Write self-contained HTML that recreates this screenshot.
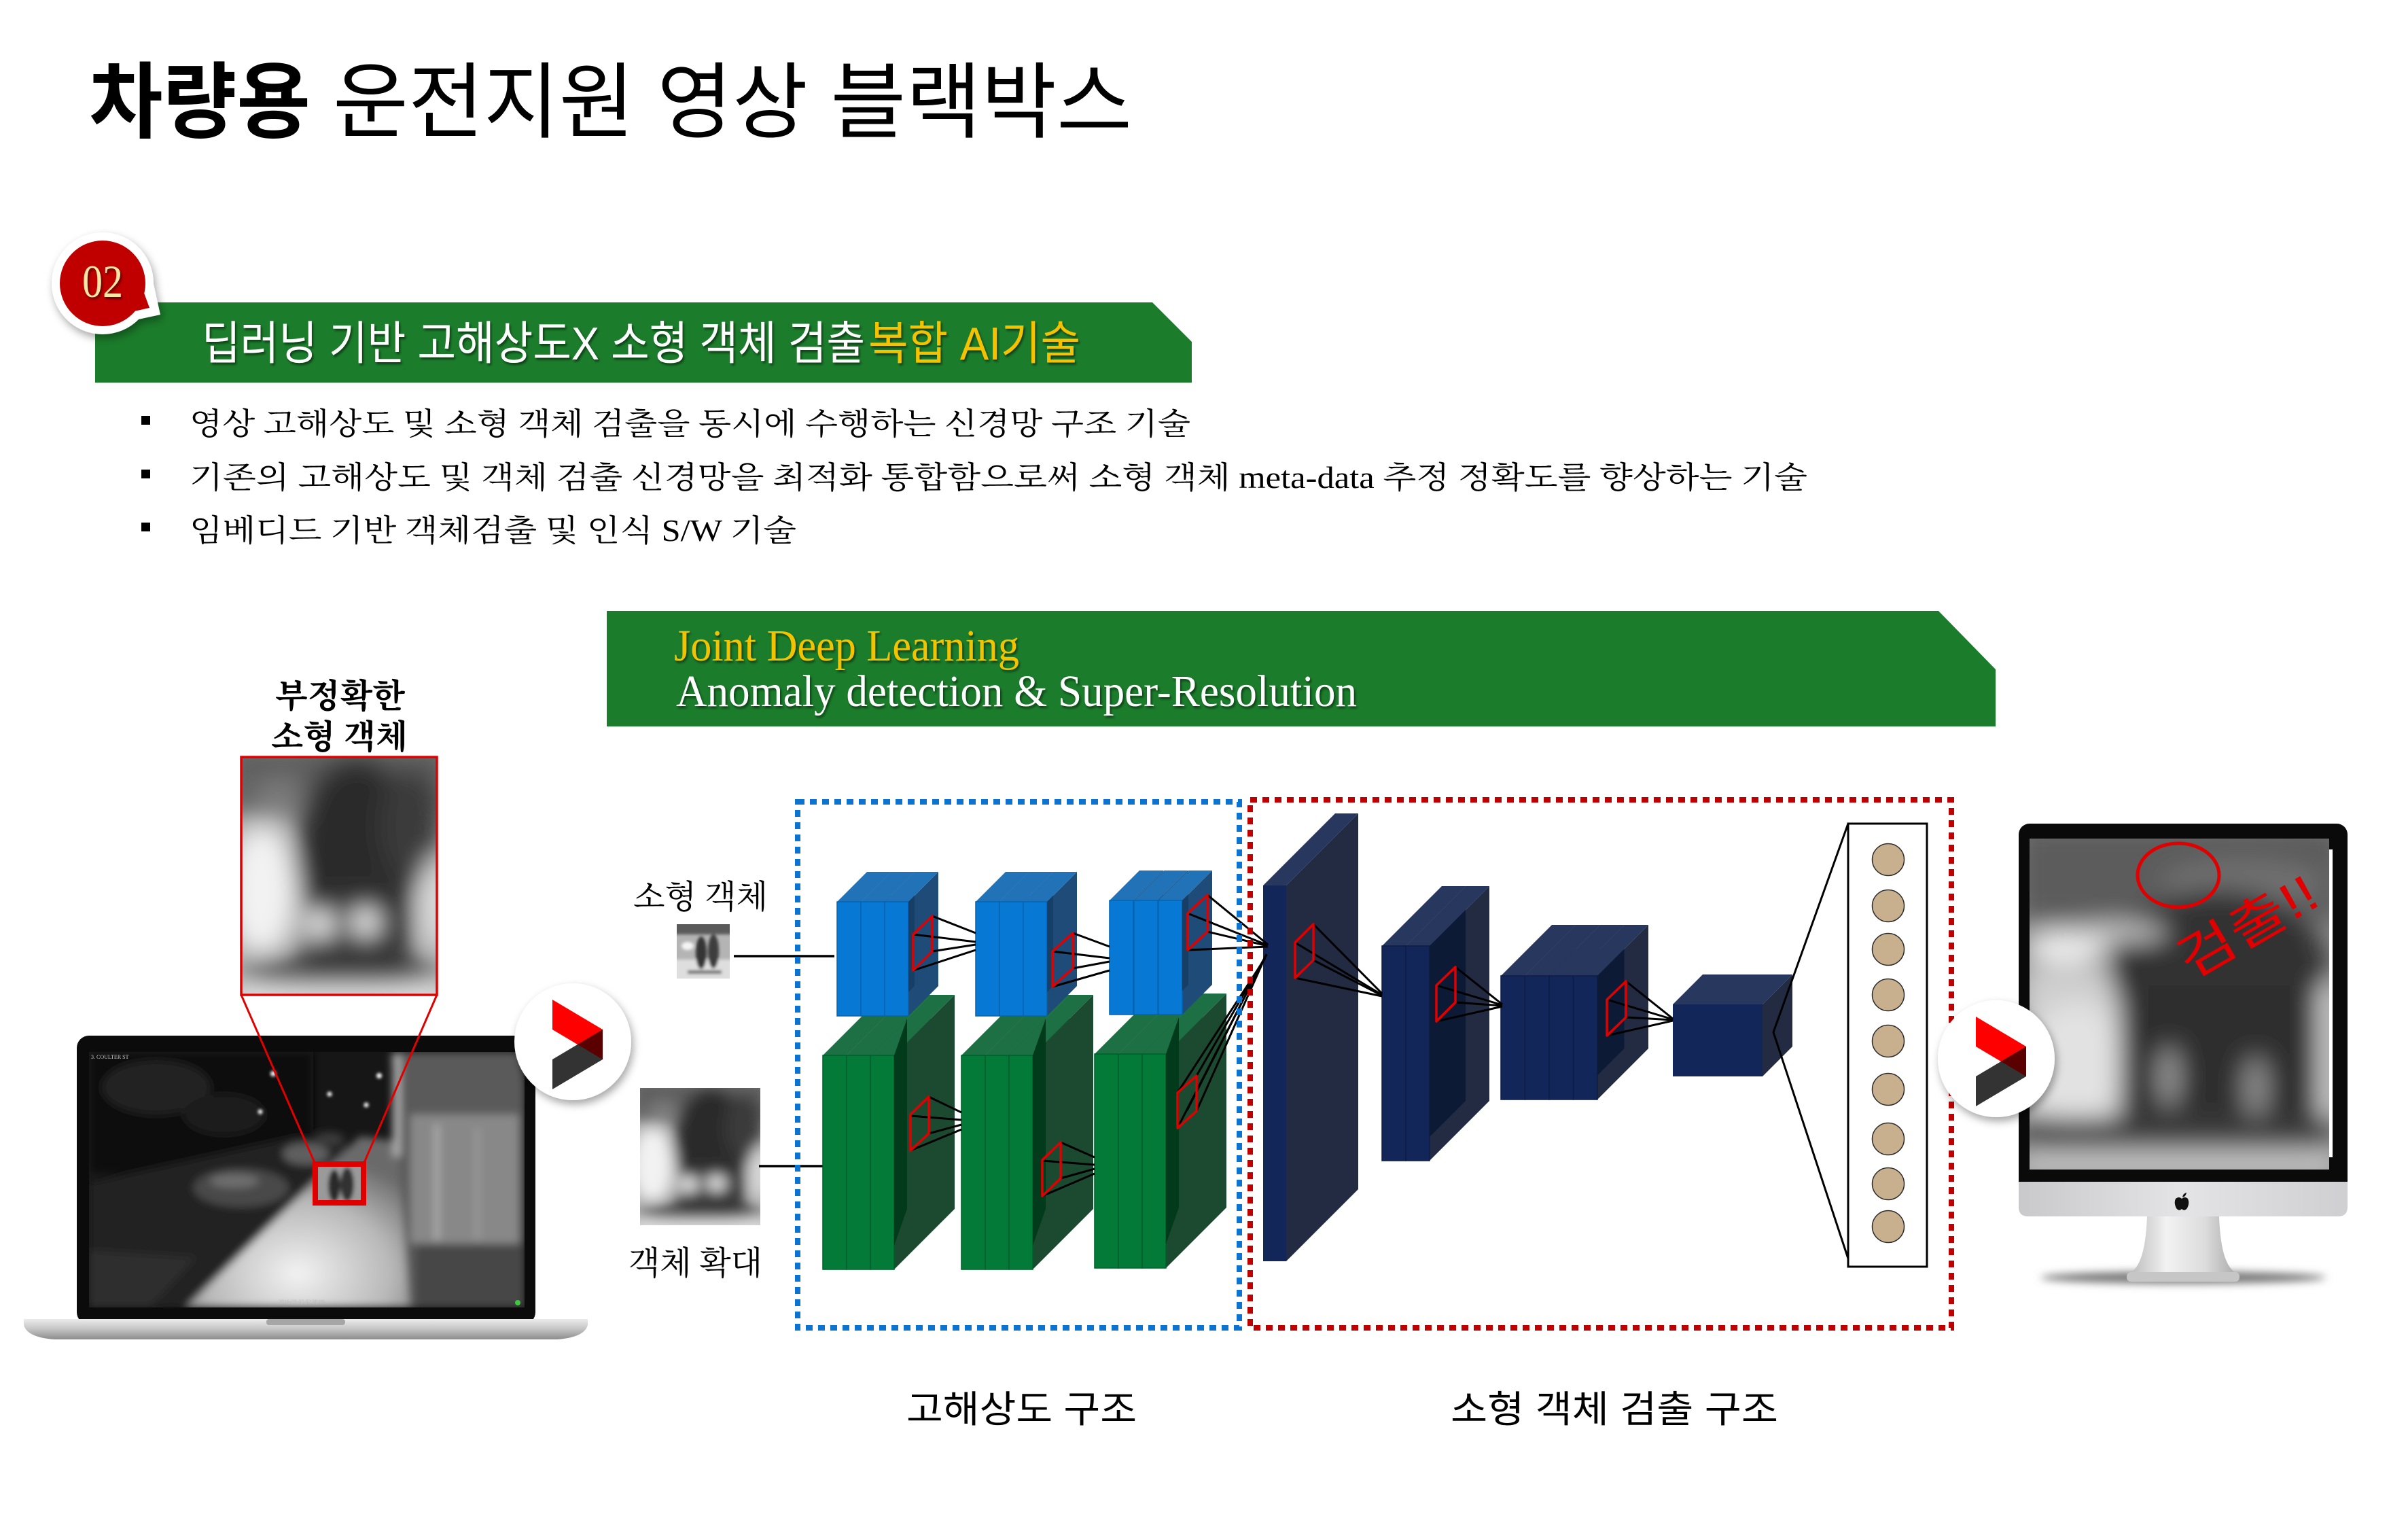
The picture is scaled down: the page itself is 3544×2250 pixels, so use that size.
<!DOCTYPE html>
<html><head><meta charset="utf-8">
<style>
html,body{margin:0;padding:0;background:#fff;overflow:hidden;}
svg{display:block;}
.ks{font-family:"Liberation Sans","Noto Sans CJK KR",sans-serif;}
.kr{font-family:"Liberation Serif","Noto Serif CJK SC",serif;}
.ls{font-family:"Liberation Serif",serif;}
</style></head><body>
<svg width="3544" height="2250" viewBox="0 0 3544 2250" xmlns="http://www.w3.org/2000/svg" xmlns:xlink="http://www.w3.org/1999/xlink">
<defs>
 <filter id="sh" x="-30%" y="-30%" width="160%" height="160%"><feDropShadow dx="3" dy="6" stdDeviation="6" flood-color="#000" flood-opacity="0.35"/></filter>
 <filter id="tsh" x="-5%" y="-20%" width="110%" height="140%"><feDropShadow dx="2" dy="3" stdDeviation="1.5" flood-color="#000" flood-opacity="0.5"/></filter>
 <filter id="b18" x="-30%" y="-30%" width="160%" height="160%"><feGaussianBlur stdDeviation="18"/></filter>
 <filter id="b14" x="-30%" y="-30%" width="160%" height="160%"><feGaussianBlur stdDeviation="14"/></filter>
 <filter id="b6s" x="-10%" y="-10%" width="120%" height="120%"><feGaussianBlur stdDeviation="6"/></filter>
 <filter id="b3" x="-10%" y="-10%" width="120%" height="120%"><feGaussianBlur stdDeviation="3"/></filter>
 <filter id="b2" x="-20%" y="-20%" width="140%" height="140%"><feGaussianBlur stdDeviation="2"/></filter>
 <filter id="b6" x="-50%" y="-200%" width="200%" height="500%"><feGaussianBlur stdDeviation="6"/></filter>
 <linearGradient id="silv" x1="0" y1="0" x2="0" y2="1"><stop offset="0" stop-color="#ececec"/><stop offset="0.5" stop-color="#c4c4c4"/><stop offset="1" stop-color="#8c8c8c"/></linearGradient>
 <linearGradient id="chin" x1="0" y1="0" x2="1" y2="0"><stop offset="0" stop-color="#c9c9cc"/><stop offset="0.5" stop-color="#e4e4e6"/><stop offset="1" stop-color="#cfcfd2"/></linearGradient>
 <linearGradient id="stand" x1="0" y1="0" x2="1" y2="0"><stop offset="0" stop-color="#b8b8b8"/><stop offset="0.35" stop-color="#f2f2f2"/><stop offset="0.7" stop-color="#dcdcdc"/><stop offset="1" stop-color="#a8a8a8"/></linearGradient>
 <radialGradient id="walk" cx="0.5" cy="0.8" r="0.7"><stop offset="0" stop-color="#f2f2f2"/><stop offset="0.6" stop-color="#b8b8b8"/><stop offset="1" stop-color="#6a6a6a"/></radialGradient>

 <clipPath id="cz"><rect x="355" y="1114" width="288" height="350"/></clipPath>
 <clipPath id="cl"><rect x="131" y="1548" width="641" height="376"/></clipPath>
 <clipPath id="cm"><rect x="2987" y="1234" width="441" height="487"/></clipPath>
 <clipPath id="cs"><rect x="996" y="1360" width="78" height="80"/></clipPath>

 <g id="zimg">
  <g clip-path="url(#cz)">
   <rect x="355" y="1114" width="288" height="350" fill="#b0b0b0"/>
   <g filter="url(#b18)">
    <rect x="330" y="1090" width="340" height="110" fill="#5e5e5e"/>
    <ellipse cx="385" cy="1310" rx="50" ry="95" fill="#f2f2f2"/>
    <ellipse cx="525" cy="1255" rx="90" ry="140" fill="#2a2a2a"/>
    <ellipse cx="605" cy="1215" rx="45" ry="85" fill="#3a3a3a"/>
    <rect x="445" y="1290" width="160" height="125" fill="#2e2e2e"/>
    <circle cx="472" cy="1360" r="20" fill="#ffffff"/>
    <circle cx="538" cy="1357" r="20" fill="#ffffff"/>
    <ellipse cx="500" cy="1430" rx="150" ry="24" fill="#404040"/>
    <rect x="340" y="1452" width="320" height="30" fill="#f4f4f4"/>
    <ellipse cx="640" cy="1330" rx="18" ry="70" fill="#e6e6e6"/>
    <ellipse cx="410" cy="1175" rx="40" ry="30" fill="#7a7a7a"/>
   </g>
  </g>
 </g>

 <g id="bslab"><polygon points="35,0 79,-44 79,124 35,168" fill="#1e4b77"/><polygon points="0,0 44,-44 79,-44 35,0" fill="#2272b8"/><rect x="0" y="0" width="35" height="168" fill="#0878d5" stroke="#0563ae" stroke-width="1.5"/></g>
 <g id="gslab"><polygon points="35,0 124,-89 124,226 35,315" fill="#1c4a31"/><polygon points="0,0 89,-89 124,-89 35,0" fill="#1d7043"/><rect x="0" y="0" width="35" height="315" fill="#037a38" stroke="#025c2a" stroke-width="1.5"/></g>
 <g id="n2slab"><polygon points="35,0 123,-88 123,228 35,316" fill="#222b42"/><polygon points="0,0 88,-88 123,-88 35,0" fill="#28375e"/><rect x="0" y="0" width="35" height="316" fill="#13265a" stroke="#0e1d45" stroke-width="1.5"/></g>
 <g id="n3slab"><polygon points="35.5,0 110.5,-75 110.5,107 35.5,182" fill="#222b42"/><polygon points="0,0 75,-75 110.5,-75 35.5,0" fill="#28375e"/><rect x="0" y="0" width="35.5" height="182" fill="#13265a" stroke="#0e1d45" stroke-width="1.5"/></g>
</defs>

<!-- Title -->
<text class="ks" x="131" y="193" font-size="122" font-weight="700" fill="#000" textLength="326" lengthAdjust="spacingAndGlyphs">차량용</text>
<text class="ks" x="490" y="193" font-size="122" font-weight="400" fill="#000" textLength="1176" lengthAdjust="spacingAndGlyphs">운전지원 영상 블랙박스</text>

<!-- Banner 1 -->
<polygon points="140,445 1696,445 1754,503 1754,563 140,563" fill="#1b7c2b"/>
<g filter="url(#tsh)">
<text class="ks" x="297" y="529" font-size="68" fill="#ffffff" textLength="976" lengthAdjust="spacingAndGlyphs">딥러닝 기반 고해상도X 소형 객체 검출</text>
<text class="ks" x="1278" y="529" font-size="68" fill="#f5c200" textLength="312" lengthAdjust="spacingAndGlyphs">복합 AI기술</text>
</g>

<!-- Badge 02 -->
<g filter="url(#sh)">
 <circle cx="151" cy="417" r="75" fill="#fff"/>
 <polygon points="180,475 236,463 222,400" fill="#fff"/>
</g>
<circle cx="151" cy="417" r="63" fill="#c00000"/>
<polygon points="180,462 220,453 205,412" fill="#c00000"/>
<text class="ls" x="121" y="437" font-size="68" fill="#f7e6a4" textLength="60" lengthAdjust="spacingAndGlyphs" filter="url(#tsh)">02</text>

<!-- Bullets -->
<rect x="208" y="612" width="13" height="13" fill="#000"/>
<rect x="208" y="691" width="13" height="13" fill="#000"/>
<rect x="208" y="769" width="13" height="13" fill="#000"/>
<text class="kr" x="279" y="639" font-size="45" fill="#000" textLength="1473" lengthAdjust="spacingAndGlyphs">영상 고해상도 및 소형 객체 검출을 동시에 수행하는 신경망 구조 기술</text>
<text class="kr" x="279" y="718" font-size="45" fill="#000" textLength="2381" lengthAdjust="spacingAndGlyphs">기존의 고해상도 및 객체 검출 신경망을 최적화 통합함으로써 소형 객체 meta-data 추정 정확도를 향상하는 기술</text>
<text class="kr" x="279" y="796" font-size="45" fill="#000" textLength="893" lengthAdjust="spacingAndGlyphs">임베디드 기반 객체검출 및 인식 S/W 기술</text>

<!-- Banner 2 -->
<polygon points="893,899 2853,899 2937,985 2937,1069 893,1069" fill="#1b7c2b"/>
<g filter="url(#tsh)">
<text class="ls" x="992" y="972" font-size="66" fill="#f3c300" textLength="508" lengthAdjust="spacingAndGlyphs">Joint Deep Learning</text>
<text class="ls" x="995" y="1039" font-size="66" fill="#ffffff" textLength="1002" lengthAdjust="spacingAndGlyphs">Anomaly detection &amp; Super-Resolution</text>
</g>

<!-- Left labels -->
<text class="kr" x="405" y="1041" font-size="49" font-weight="700" fill="#000" textLength="191" lengthAdjust="spacingAndGlyphs">부정확한</text>
<text class="kr" x="399" y="1101" font-size="49" font-weight="700" fill="#000" textLength="201" lengthAdjust="spacingAndGlyphs">소형 객체</text>

<!-- zoomed blurry image -->
<use xlink:href="#zimg" href="#zimg"/>
<rect x="355" y="1114" width="288" height="350" fill="none" stroke="#e00000" stroke-width="3.5"/>

<!-- Laptop -->
<rect x="113" y="1524" width="675" height="425" rx="18" fill="#0b0b0b"/>
<g clip-path="url(#cl)">
 <rect x="131" y="1548" width="641" height="376" fill="#161616"/>
 <g filter="url(#b6s)">
  <rect x="131" y="1548" width="330" height="180" fill="#0c0c0c"/>
  <ellipse cx="230" cy="1600" rx="80" ry="40" fill="#222"/>
  <ellipse cx="330" cy="1640" rx="60" ry="30" fill="#1e1e1e"/>
  <polygon points="131,1740 131,1924 290,1924 525,1690 440,1672" fill="#242424"/>
  <polygon points="131,1840 131,1924 220,1924 290,1850" fill="#2e2e2e"/>
  <polygon points="274,1924 602,1924 586,1680 530,1672" fill="url(#walk)"/>
  <polygon points="576,1548 772,1548 772,1924 602,1924 586,1680" fill="#5a5a5a"/>
  <rect x="604" y="1640" width="160" height="190" fill="#888"/>
  <rect x="640" y="1655" width="6" height="170" fill="#b4b4b4"/>
  <rect x="700" y="1660" width="5" height="165" fill="#a0a0a0"/>
  <rect x="612" y="1830" width="160" height="94" fill="#474747"/>
  <rect x="578" y="1552" width="12" height="150" fill="#aaa"/>
  <ellipse cx="355" cy="1748" rx="70" ry="28" fill="#4a4a4a"/>
  <ellipse cx="345" cy="1738" rx="36" ry="10" fill="#6e6e6e"/>
  <ellipse cx="450" cy="1698" rx="34" ry="16" fill="#5e5e5e"/>
  <ellipse cx="485" cy="1676" rx="22" ry="10" fill="#3a3a3a"/>
 </g>
 <g fill="#fff" filter="url(#b2)">
  <circle cx="402" cy="1580" r="4"/><circle cx="558" cy="1583" r="4"/><circle cx="485" cy="1610" r="3.5"/>
  <circle cx="383" cy="1636" r="3.5"/><circle cx="539" cy="1626" r="3.5"/>
 </g>
 <g filter="url(#b3)">
  <rect x="464" y="1713" width="71" height="57" fill="#9a9a9a"/>
  <ellipse cx="492" cy="1745" rx="9" ry="24" fill="#2a2a2a"/>
  <ellipse cx="511" cy="1743" rx="10" ry="25" fill="#333"/>
 </g>
 <circle cx="762" cy="1917" r="4" fill="#3ec83e"/>
 <text class="ls" x="134" y="1558" font-size="8" fill="#ccc">3. COULTER ST</text>
 <text class="ls" x="410" y="1918" font-size="8" fill="#bbb">2016-09-05 02:38:09</text>
</g>
<path d="M35,1941 L865,1941 L865,1950 Q860,1968 820,1971 L80,1971 Q40,1968 35,1950 Z" fill="url(#silv)"/>
<rect x="392" y="1941" width="116" height="9" rx="4" fill="#a6a6a6"/>
<line x1="355" y1="1464" x2="464" y2="1713" stroke="#e00000" stroke-width="3"/>
<line x1="643" y1="1464" x2="535" y2="1713" stroke="#e00000" stroke-width="3"/>
<rect x="464" y="1713" width="71" height="57" fill="none" stroke="#e00000" stroke-width="8"/>

<!-- Play button 1 -->
<g transform="translate(843,1533)">
 <circle r="86" fill="#fff" filter="url(#sh)"/>
 <polygon points="-30,-62 44,-18 44,26 -30,-18" fill="#ff0000"/>
 <polygon points="-30,26 44,-18 44,26 -30,70" fill="#333333"/>
 <polygon points="7,4 44,-18 44,26" fill="#5a0000"/>
</g>

<!-- Inputs -->
<text class="kr" x="932" y="1336" font-size="48" fill="#000" textLength="198" lengthAdjust="spacingAndGlyphs">소형 객체</text>
<g clip-path="url(#cs)">
 <rect x="996" y="1360" width="78" height="80" fill="#b4b4b4"/>
 <g filter="url(#b2)">
  <rect x="990" y="1355" width="90" height="20" fill="#5a5a5a"/>
  <rect x="990" y="1412" width="90" height="35" fill="#dedede"/>
  <ellipse cx="1012" cy="1392" rx="9" ry="6" fill="#f4f4f4"/>
  <ellipse cx="1032" cy="1402" rx="8" ry="24" fill="#353535"/>
  <ellipse cx="1050" cy="1400" rx="8" ry="25" fill="#3d3d3d"/>
  <rect x="1012" y="1428" width="50" height="5" fill="#666"/>
 </g>
</g>
<line x1="1080" y1="1407" x2="1228" y2="1407" stroke="#000" stroke-width="3.5"/>
<use xlink:href="#zimg" href="#zimg" transform="translate(942,1601) scale(0.6146,0.5771) translate(-355,-1114)"/>
<line x1="1117" y1="1716" x2="1218" y2="1716" stroke="#000" stroke-width="3.5"/>
<text class="kr" x="925" y="1875" font-size="48" fill="#000" textLength="197" lengthAdjust="spacingAndGlyphs">객체 확대</text>

<!-- Green blocks -->
<g transform="translate(1211,1553)"><use href="#gslab" xlink:href="#gslab"/><use href="#gslab" xlink:href="#gslab" x="35"/><use href="#gslab" xlink:href="#gslab" x="70"/><polygon points="105,0 124,-54 124,226 105,280" fill="#023b1b"/></g>
<g transform="translate(1415,1553)"><use href="#gslab" xlink:href="#gslab"/><use href="#gslab" xlink:href="#gslab" x="35"/><use href="#gslab" xlink:href="#gslab" x="70"/><polygon points="105,0 124,-54 124,226 105,280" fill="#023b1b"/></g>
<g transform="translate(1611,1551)"><use href="#gslab" xlink:href="#gslab"/><use href="#gslab" xlink:href="#gslab" x="35"/><use href="#gslab" xlink:href="#gslab" x="70"/><polygon points="105,0 124,-54 124,226 105,280" fill="#023b1b"/></g>

<!-- Blue blocks -->
<g transform="translate(1232,1327)"><use href="#bslab" xlink:href="#bslab"/><use href="#bslab" xlink:href="#bslab" x="35"/><use href="#bslab" xlink:href="#bslab" x="70"/><polygon points="105,0 114,-9 114,124 105,133" fill="#173f66"/></g>
<g transform="translate(1436,1327)"><use href="#bslab" xlink:href="#bslab"/><use href="#bslab" xlink:href="#bslab" x="35"/><use href="#bslab" xlink:href="#bslab" x="70"/><polygon points="105,0 114,-9 114,124 105,133" fill="#173f66"/></g>
<g transform="translate(1633,1325)"><use href="#bslab" xlink:href="#bslab"/><use href="#bslab" xlink:href="#bslab" x="36"/><use href="#bslab" xlink:href="#bslab" x="72"/><polygon points="107,0 116,-9 116,124 107,133" fill="#173f66"/></g>

<!-- Navy slab 1 -->
<polygon points="1893,1303 1999,1197 1999,1750 1893,1856" fill="#222b42"/>
<polygon points="1859,1303 1965,1197 1999,1197 1893,1303" fill="#28375e"/>
<rect x="1859" y="1303" width="34" height="553" fill="#13265a"/>
<!-- Navy 2 -->
<g transform="translate(2034,1392)"><use href="#n2slab" xlink:href="#n2slab"/><use href="#n2slab" xlink:href="#n2slab" x="35"/><polygon points="70,0 123,-53 123,228 70,281" fill="#0d1a36"/></g>
<!-- Navy 3 -->
<g transform="translate(2209,1436)"><use href="#n3slab" xlink:href="#n3slab"/><use href="#n3slab" xlink:href="#n3slab" x="35.5"/><use href="#n3slab" xlink:href="#n3slab" x="71"/><use href="#n3slab" xlink:href="#n3slab" x="106.5"/><polygon points="142,0 181.5,-39.5 181.5,107 142,146.5" fill="#0d1a36"/></g>
<!-- Cube -->
<polygon points="2594,1478 2638,1434 2638,1540 2594,1584" fill="#222b42"/>
<polygon points="2462,1478 2506,1434 2638,1434 2594,1478" fill="#28375e"/>
<rect x="2462" y="1478" width="132" height="106" fill="#13265a"/>

<!-- connection lines -->
<g stroke="#000" stroke-width="3" fill="none">
 <line x1="1372" y1="1348" x2="1436" y2="1373"/><line x1="1344" y1="1375" x2="1436" y2="1386"/><line x1="1372" y1="1400" x2="1436" y2="1390"/><line x1="1344" y1="1428" x2="1436" y2="1398"/>
 <line x1="1579" y1="1373" x2="1633" y2="1393"/><line x1="1549" y1="1400" x2="1633" y2="1410"/><line x1="1579" y1="1425" x2="1633" y2="1415"/><line x1="1549" y1="1452" x2="1633" y2="1428"/>
 <line x1="1777" y1="1317" x2="1866" y2="1390"/><line x1="1748" y1="1344" x2="1866" y2="1391"/><line x1="1777" y1="1371" x2="1866" y2="1392"/><line x1="1748" y1="1398" x2="1866" y2="1393"/>
 <line x1="1367" y1="1614" x2="1415" y2="1637"/><line x1="1340" y1="1642" x2="1415" y2="1648"/><line x1="1367" y1="1668" x2="1415" y2="1655"/><line x1="1340" y1="1693" x2="1415" y2="1662"/>
 <line x1="1561" y1="1681" x2="1611" y2="1703"/><line x1="1534" y1="1708" x2="1611" y2="1714"/><line x1="1561" y1="1734" x2="1611" y2="1720"/><line x1="1534" y1="1760" x2="1611" y2="1727"/>
 <line x1="1761" y1="1583" x2="1864" y2="1405"/><line x1="1733" y1="1608" x2="1862" y2="1410"/><line x1="1761" y1="1635" x2="1864" y2="1404"/><line x1="1733" y1="1660" x2="1862" y2="1408"/><line x1="1747" y1="1634" x2="1863" y2="1406"/>
 <line x1="1933" y1="1360" x2="2034" y2="1462"/><line x1="1906" y1="1387" x2="2034" y2="1464"/><line x1="1933" y1="1413" x2="2034" y2="1465"/><line x1="1906" y1="1439" x2="2034" y2="1466"/>
 <line x1="2142" y1="1423" x2="2211" y2="1478"/><line x1="2114" y1="1450" x2="2211" y2="1479"/><line x1="2142" y1="1475" x2="2211" y2="1480"/><line x1="2114" y1="1503" x2="2211" y2="1481"/>
 <line x1="2393" y1="1444" x2="2462" y2="1499"/><line x1="2365" y1="1471" x2="2462" y2="1500"/><line x1="2393" y1="1497" x2="2462" y2="1501"/><line x1="2365" y1="1524" x2="2462" y2="1502"/>
 <polyline points="2720,1212 2610,1519 2720,1852"/>
</g>
<!-- kernels -->
<g stroke="#e00000" stroke-width="3.5" fill="none" stroke-linejoin="round">
 <polygon points="1344,1375 1372,1348 1372,1400 1344,1428"/>
 <polygon points="1549,1400 1579,1373 1579,1425 1549,1452"/>
 <polygon points="1748,1344 1777,1317 1777,1371 1748,1398"/>
 <polygon points="1340,1640 1367,1614 1367,1668 1340,1693"/>
 <polygon points="1534,1707 1561,1681 1561,1734 1534,1760"/>
 <polygon points="1733,1608 1761,1583 1761,1635 1733,1660"/>
 <polygon points="1906,1387 1933,1360 1933,1413 1906,1439"/>
 <polygon points="2114,1450 2142,1423 2142,1475 2114,1503"/>
 <polygon points="2365,1471 2393,1444 2393,1497 2365,1524"/>
</g>

<!-- output column -->
<rect x="2720" y="1212" width="116" height="652" fill="#fff" stroke="#000" stroke-width="3"/>
<g fill="#c8b08f" stroke="#2a2a2a" stroke-width="1.5">
 <circle cx="2779" cy="1265" r="23.5"/><circle cx="2779" cy="1333" r="23.5"/><circle cx="2779" cy="1397" r="23.5"/>
 <circle cx="2779" cy="1464" r="23.5"/><circle cx="2779" cy="1532" r="23.5"/><circle cx="2779" cy="1603" r="23.5"/>
 <circle cx="2779" cy="1676" r="23.5"/><circle cx="2779" cy="1742" r="23.5"/><circle cx="2779" cy="1805" r="23.5"/>
</g>

<!-- dotted frames -->
<rect x="1174" y="1180" width="650" height="774" fill="none" stroke="#0a74d0" stroke-width="8" stroke-dasharray="10 8"/>
<rect x="1840" y="1177" width="1032" height="777" fill="none" stroke="#c00000" stroke-width="8" stroke-dasharray="10 8"/>

<!-- bottom labels -->
<text class="ks" x="1334" y="2093" font-size="55" fill="#000" textLength="339" lengthAdjust="spacingAndGlyphs">고해상도 구조</text>
<text class="ks" x="2135" y="2093" font-size="55" fill="#000" textLength="482" lengthAdjust="spacingAndGlyphs">소형 객체 검출 구조</text>

<!-- iMac -->
<ellipse cx="3213" cy="1880" rx="210" ry="9" fill="#777" filter="url(#b6)"/>
<rect x="2971" y="1212" width="484" height="545" rx="16" fill="#0a0a0a"/>
<path d="M2971,1739 L3455,1739 L3455,1776 Q3455,1790 3441,1790 L2985,1790 Q2971,1790 2971,1776 Z" fill="url(#chin)"/>
<path d="M3202,1764 q5,-4 9,0 q5,-4 9,0 q3,6 -1,14 q-4,5 -8,1 q-4,4 -8,-1 q-4,-8 -1,-14 Z" fill="#111"/>
<path d="M3212,1762 q1,-6 6,-7 q-1,6 -6,7 Z" fill="#111"/>
<path d="M3160,1790 L3266,1790 C3268,1840 3276,1866 3294,1876 L3132,1876 C3150,1866 3158,1840 3160,1790 Z" fill="url(#stand)"/>
<rect x="3130" y="1872" width="166" height="14" rx="6" fill="#c6c6c6"/>
<g clip-path="url(#cm)">
 <rect x="2987" y="1234" width="441" height="487" fill="#8a8a8a"/>
 <g filter="url(#b18)">
  <rect x="2970" y="1215" width="480" height="140" fill="#5c5c5c"/>
  <ellipse cx="3300" cy="1300" rx="120" ry="35" fill="#707070"/>
  <ellipse cx="3040" cy="1395" rx="60" ry="26" fill="#ededed"/>
  <rect x="2975" y="1425" width="160" height="230" fill="#cfcfcf"/>
  <ellipse cx="3055" cy="1565" rx="70" ry="90" fill="#e2e2e2"/>
  <ellipse cx="3265" cy="1425" rx="160" ry="115" fill="#333"/>
  <rect x="3120" y="1450" width="300" height="195" fill="#2f2f2f"/>
  <ellipse cx="3120" cy="1372" rx="70" ry="14" fill="#c4c4c4"/>
  <ellipse cx="3192" cy="1585" rx="16" ry="45" fill="#9a9a9a"/>
  <ellipse cx="3320" cy="1600" rx="18" ry="45" fill="#909090"/>
  <rect x="3412" y="1450" width="30" height="260" fill="#d4d4d4"/>
  <rect x="2970" y="1645" width="470" height="45" fill="#3c3c3c"/>
  <rect x="2970" y="1692" width="470" height="40" fill="#c4c4c4"/>
 </g>
 <ellipse cx="3206" cy="1288" rx="60" ry="47" fill="none" stroke="#e00000" stroke-width="5"/>
 <text class="ks" x="3321" y="1386" font-size="75" fill="#e00000" text-anchor="middle" textLength="225" lengthAdjust="spacingAndGlyphs" transform="rotate(-30 3321 1386)">검출!!</text>
</g>
<rect x="3428" y="1250" width="5" height="453" fill="#fff"/>

<!-- Play button 2 -->
<g transform="translate(2938,1558)">
 <circle r="86" fill="#fff" filter="url(#sh)"/>
 <polygon points="-30,-62 44,-18 44,26 -30,-18" fill="#ff0000"/>
 <polygon points="-30,26 44,-18 44,26 -30,70" fill="#333333"/>
 <polygon points="7,4 44,-18 44,26" fill="#5a0000"/>
</g>
</svg>
</body></html>
